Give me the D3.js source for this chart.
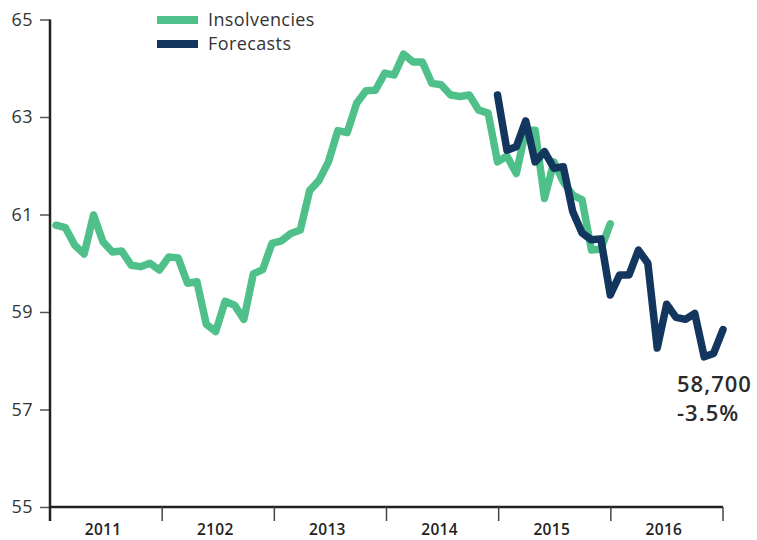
<!DOCTYPE html>
<html>
<head>
<meta charset="utf-8">
<script src="https://cdn.jsdelivr.net/npm/d3@7"></script>
<style>
  body { margin: 0; background: #fff; }
  svg { display: block; font-family: "Open Sans", sans-serif; }
</style>
</head>
<body>
<div id="chart"></div>
<script>
// years on the x axis (the 2102 typo is in the original)
const years = ["2011", "2102", "2013", "2014", "2015", "2016"];
const yTicks = [55, 57, 59, 61, 63, 65];

// monthly insolvencies (thousands), Jan 2011 - Dec 2015
const insolvencies = [
  60.78, 60.73, 60.37, 60.19, 60.99, 60.44, 60.23, 60.25, 59.96, 59.93, 60.00, 59.86,
  60.13, 60.11, 59.59, 59.62, 58.75, 58.60, 59.22, 59.14, 58.85, 59.78, 59.87, 60.41,
  60.46, 60.61, 60.68, 61.49, 61.70, 62.08, 62.72, 62.68, 63.28, 63.54, 63.55, 63.90,
  63.86, 64.29, 64.13, 64.13, 63.69, 63.66, 63.45, 63.42, 63.45, 63.14, 63.08, 62.08,
  62.20, 61.84, 62.73, 62.73, 61.33, 62.08, 61.67, 61.40, 61.30, 60.27, 60.29, 60.81
];

// forecasts, Dec 2014 - Dec 2016
const forecastStart = 47;
const forecasts = [
  63.45, 62.32, 62.39, 62.92, 62.08, 62.29, 61.95, 61.98, 61.06, 60.62, 60.48, 60.50,
  59.35, 59.76, 59.76, 60.27, 60.00, 58.26, 59.16, 58.89, 58.85, 58.97, 58.08, 58.15,
  58.64
];

const width = 757, height = 540;
const axisLeft = 50, axisRight = 723, axisTop = 19.5, axisBottom = 507;

const svg = d3.select("#chart").append("svg")
    .attr("width", width)
    .attr("height", height);

const x = d3.scaleLinear().domain([0, 71]).range([56, 723]);
const y = d3.scaleLinear().domain([55, 65]).range([axisBottom, axisTop]);
const xYear = d3.scaleBand().domain(years).range([axisLeft, axisRight]);

// y axis
const yAxis = svg.append("g")
    .attr("transform", `translate(${axisLeft},0)`)
    .call(d3.axisLeft(y).tickValues(yTicks).tickSize(10).tickPadding(7).tickSizeOuter(0));
yAxis.select(".domain").remove();
yAxis.selectAll(".tick line").attr("stroke", "#555").attr("stroke-width", 1.5);
yAxis.selectAll(".tick text")
    .attr("fill", "#333")
    .attr("font-size", 18)
    .attr("letter-spacing", 0.5)
    .attr("font-family", "Open Sans, sans-serif");

// vertical axis line (runs a bit below the x axis)
svg.append("line")
    .attr("x1", axisLeft).attr("x2", axisLeft)
    .attr("y1", axisTop).attr("y2", 521)
    .attr("stroke", "#222").attr("stroke-width", 2.5);

// x axis: year bands
svg.append("line")
    .attr("x1", axisLeft).attr("x2", axisRight)
    .attr("y1", axisBottom).attr("y2", axisBottom)
    .attr("stroke", "#222").attr("stroke-width", 2.5);

const boundaries = years.map(d => xYear(d)).concat([axisRight]).slice(1);
svg.append("g").selectAll("line")
  .data(boundaries)
  .join("line")
    .attr("x1", d => d).attr("x2", d => d)
    .attr("y1", axisBottom).attr("y2", 521)
    .attr("stroke", "#444").attr("stroke-width", 1.5);

svg.append("g").selectAll("text")
  .data(years)
  .join("text")
    .attr("x", d => xYear(d) + xYear.bandwidth() / 2 - 3)
    .attr("y", 535)
    .attr("text-anchor", "middle")
    .attr("font-size", 15.5)
    .attr("font-weight", 600)
    .attr("letter-spacing", 0.3)
    .attr("fill", "#222")
    .text(d => d);

// lines
const line = d3.line()
    .x(d => x(d.i))
    .y(d => y(d.v));

const insData = insolvencies.map((v, i) => ({i, v}));
const fcData = forecasts.map((v, k) => ({i: forecastStart + k, v}));

svg.append("path")
    .datum(insData)
    .attr("d", line)
    .attr("fill", "none")
    .attr("stroke", "#50c08b")
    .attr("stroke-width", 7.5)
    .attr("stroke-linejoin", "round")
    .attr("stroke-linecap", "round");

svg.append("path")
    .datum(fcData)
    .attr("d", line)
    .attr("fill", "none")
    .attr("stroke", "#13365f")
    .attr("stroke-width", 7.5)
    .attr("stroke-linejoin", "round")
    .attr("stroke-linecap", "round");

// legend
const legendItems = [
  {name: "Insolvencies", color: "#50c08b", y: 20},
  {name: "Forecasts", color: "#13365f", y: 44}
];
const legend = svg.append("g").selectAll("g")
  .data(legendItems)
  .join("g")
    .attr("transform", d => `translate(157,${d.y})`);
legend.append("rect")
    .attr("x", 0).attr("y", -4)
    .attr("width", 41).attr("height", 8)
    .attr("fill", d => d.color);
legend.append("text")
    .attr("x", 51).attr("y", 6)
    .attr("font-size", 18)
    .attr("letter-spacing", 0.4)
    .attr("fill", "#333")
    .text(d => d.name);

// end annotation
const last = fcData[fcData.length - 1];
const noteX = x(last.i) - 46;
const note = svg.append("text")
    .attr("font-size", 22)
    .attr("font-weight", 600)
    .attr("letter-spacing", 1)
    .attr("fill", "#2a2a2a");
note.append("tspan").attr("x", noteX).attr("y", 392).text("58,700");
note.append("tspan").attr("x", noteX).attr("y", 421).text("-3.5%");
</script>
</body>
</html>
